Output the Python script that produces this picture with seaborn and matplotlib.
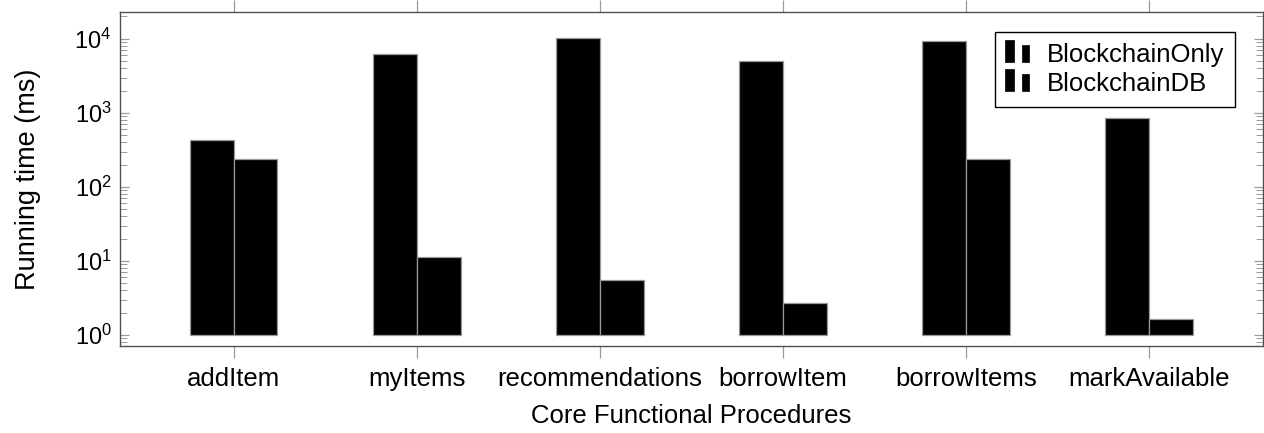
import matplotlib
matplotlib.use("Agg")
import matplotlib.pyplot as plt
from matplotlib.legend_handler import HandlerBase
from matplotlib.patches import Rectangle
from matplotlib.ticker import LogLocator, NullFormatter
import numpy as np
import pandas as pd
import seaborn as sns

# Procedures measured and their running times (ms)
procedures = ["addItem", "myItems", "recommendations", "borrowItem",
              "borrowItems", "markAvailable"]
blockchain_only = [426, 6300, 10300, 5070, 9400, 858]
blockchain_db = [237, 11.2, 5.48, 2.67, 240, 1.67]
series_names = ["BlockchainOnly", "BlockchainDB"]

df = pd.DataFrame({
    "procedure": procedures * 2,
    "time": blockchain_only + blockchain_db,
    "system": [series_names[0]] * len(procedures) + [series_names[1]] * len(procedures),
})

sns.set_theme(style="white")
plt.rcParams["font.family"] = ["Liberation Sans", "DejaVu Sans"]
plt.rcParams["mathtext.fontset"] = "custom"
plt.rcParams["mathtext.rm"] = "Liberation Sans"
plt.rcParams["mathtext.it"] = "Liberation Sans:italic"
plt.rcParams["mathtext.bf"] = "Liberation Sans:bold"
plt.rcParams["text.color"] = "black"
plt.rcParams["axes.labelcolor"] = "black"

FS = 18.5

fig = plt.figure(figsize=(12.64, 4.33), dpi=100)
ax = fig.add_axes([0.0949, 0.2009, 0.9043, 0.7714])

sns.barplot(data=df, x="procedure", y="time", hue="system", order=procedures,
            hue_order=series_names, palette=["black", "black"], width=0.48,
            saturation=1, edgecolor="#999999", linewidth=0.9, legend=False, ax=ax)

ax.set_yscale("log")
# bars rise from the 10^0 baseline
for p in ax.patches:
    h = p.get_height()
    p.set_y(1.0)
    p.set_height(h - 1.0)

ax.set_ylim(0.71, 23000)
ax.set_xlim(-0.62, 5.62)

ax.yaxis.set_major_locator(LogLocator(base=10, numticks=10))
ax.yaxis.set_minor_locator(LogLocator(base=10, subs=np.arange(2, 10), numticks=20))
ax.yaxis.set_minor_formatter(NullFormatter())

tick_col = "#9a9a9a"
ax.tick_params(axis="y", which="major", direction="in", length=6.8, width=0.9,
               color=tick_col, labelcolor="black", left=True, right=True,
               labelsize=17, pad=6)
ax.tick_params(axis="y", which="minor", direction="in", length=4.8, width=0.7,
               color=tick_col, left=True, right=True)
ax.tick_params(axis="x", which="major", direction="out", length=8.5, width=0.9,
               color=tick_col, labelcolor="black", bottom=True, top=True,
               labelsize=FS, pad=6.5)
ax.tick_params(axis="x", which="minor", bottom=False, top=False)

for s in ax.spines.values():
    s.set_color("#505050")
    s.set_linewidth(1.0)

ax.set_xlabel("Core Functional Procedures", fontsize=FS, labelpad=9.5, color="black")
ax.set_ylabel("Running time (ms)", fontsize=FS + 1, labelpad=24, color="black")


class BarPairHandler(HandlerBase):
    """Legend key drawn as a pair of small bars."""
    def create_artists(self, legend, orig_handle, xdescent, ydescent,
                       width, height, fontsize, trans):
        bw1 = width * 0.34
        bw2 = width * 0.30
        r1 = Rectangle((-xdescent, -ydescent), bw1, height * 1.22,
                       facecolor="black", edgecolor="black", lw=0.5, transform=trans)
        r2 = Rectangle((-xdescent + width - bw2, -ydescent), bw2, height * 0.95,
                       facecolor="black", edgecolor="black", lw=0.5, transform=trans)
        return [r1, r2]


handles = [Rectangle((0, 0), 1, 1, facecolor="black") for _ in series_names]
leg = ax.legend(handles, series_names, loc="upper right",
                bbox_to_anchor=(1 - 28 / 1143, 1 - 20 / 334),
                handler_map={Rectangle: BarPairHandler()},
                fontsize=FS, frameon=True, fancybox=False, framealpha=1,
                edgecolor="black", borderpad=0.42, handlelength=0.93,
                handleheight=0.7, handletextpad=0.68, labelspacing=0.2,
                borderaxespad=0, labelcolor="black")
leg.get_frame().set_linewidth(1.0)

fig.savefig("out.png", dpi=100)
